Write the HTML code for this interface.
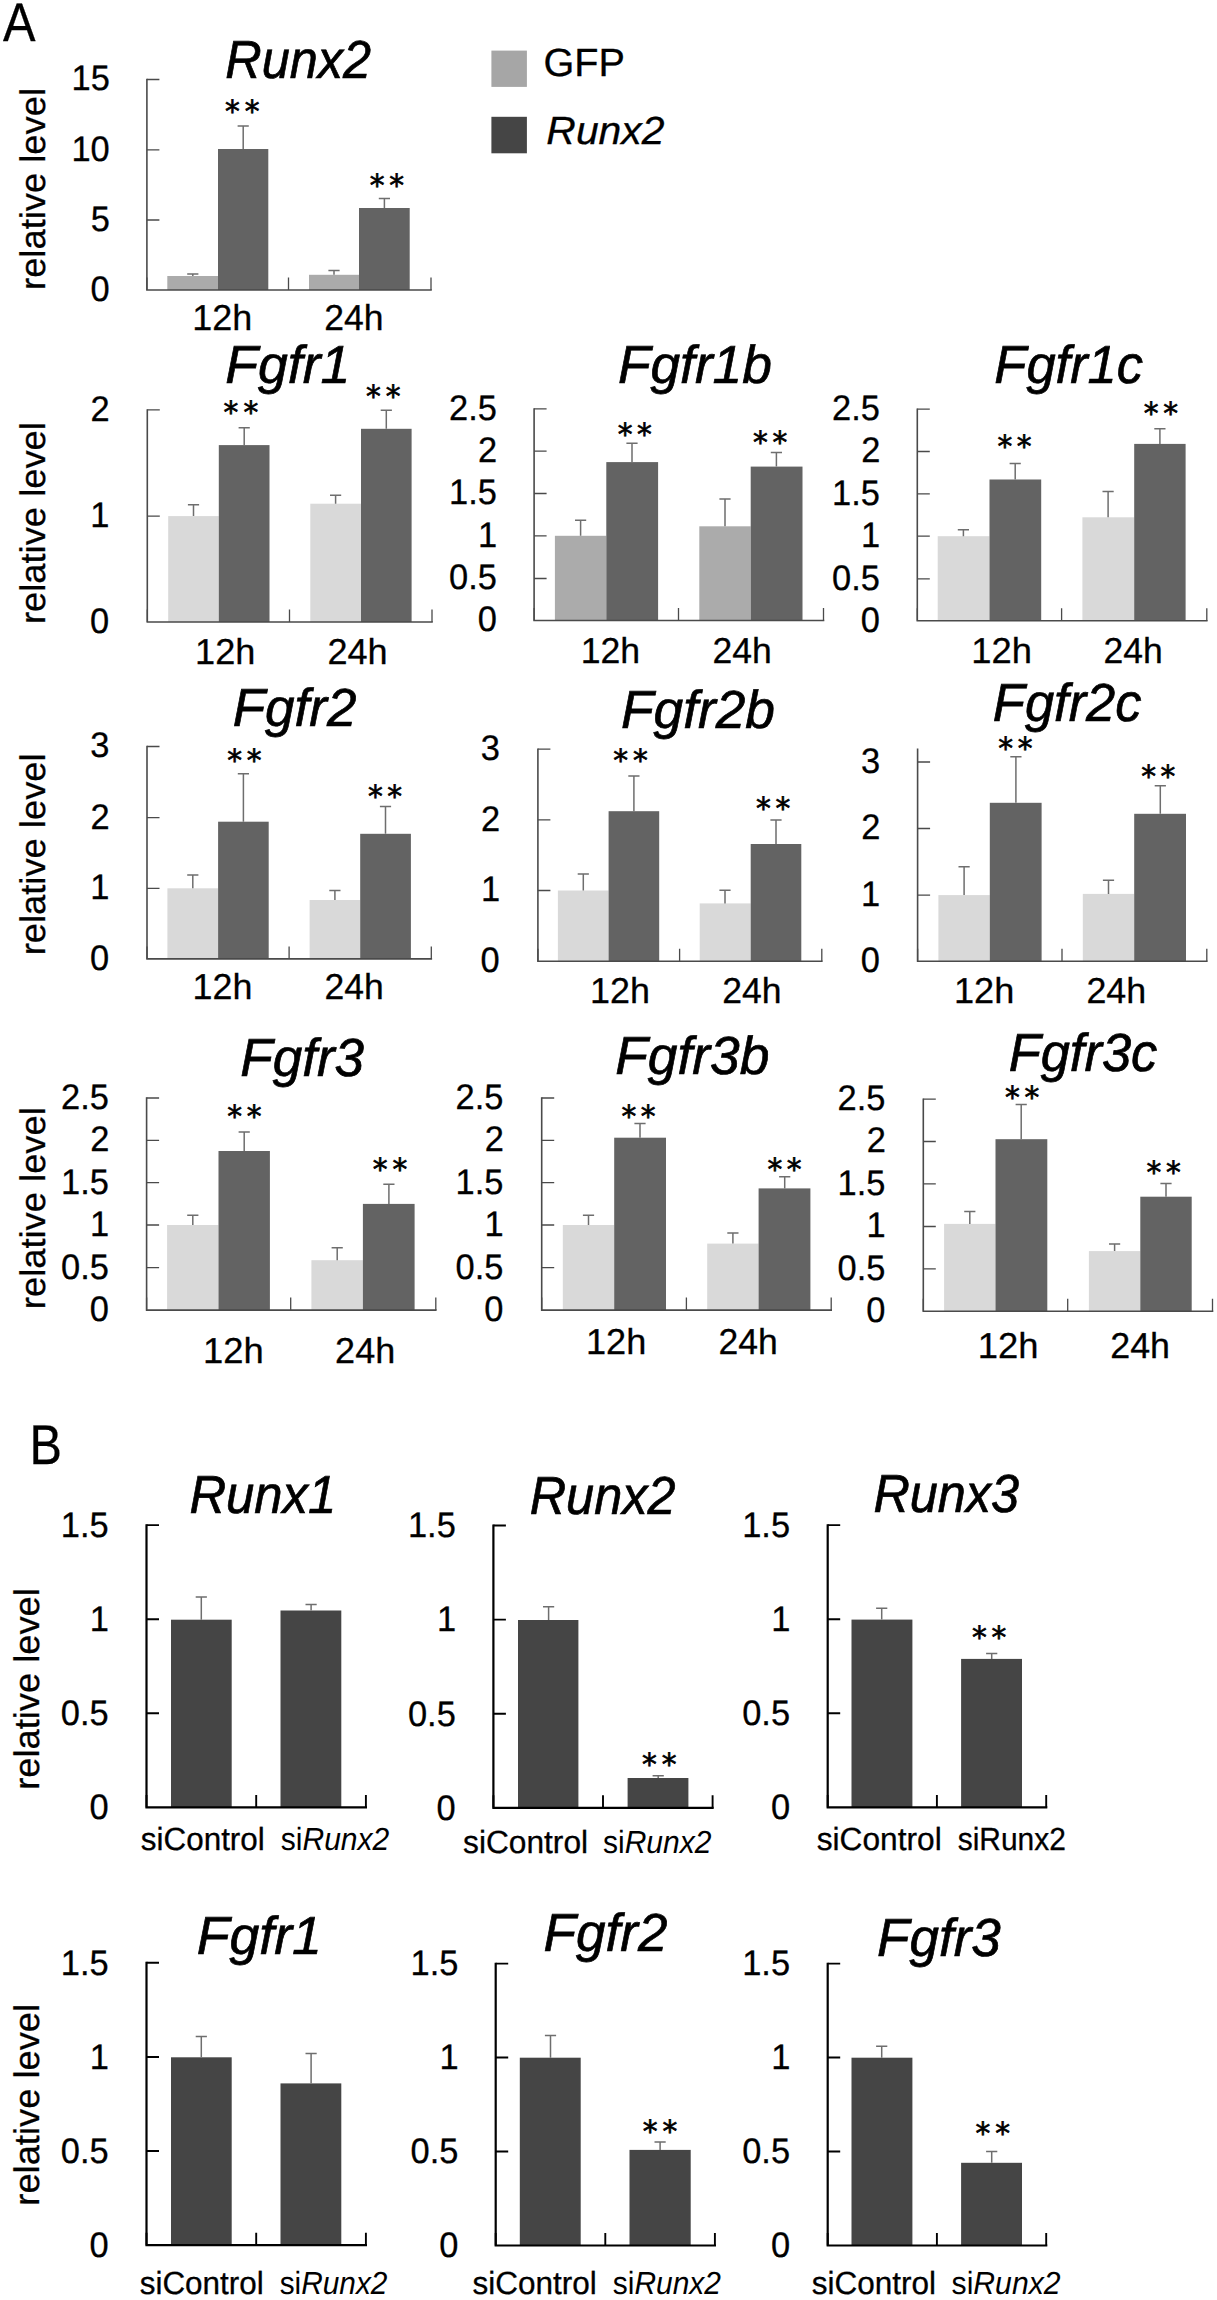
<!DOCTYPE html>
<html lang="en"><head><meta charset="utf-8"><title>Figure</title>
<style>
html,body{margin:0;padding:0;background:#fff;}
body{width:1217px;height:2300px;overflow:hidden;}
svg{display:block;}
svg text{font-family:"Liberation Sans", sans-serif;fill:#000;text-rendering:geometricPrecision;}
svg text.st{font-family:"DejaVu Sans", "Liberation Sans", sans-serif;}
</style></head><body>
<svg width="1217" height="2300" viewBox="0 0 1217 2300">
<rect width="1217" height="2300" fill="#fff"/>
<rect x="167.3" y="276" width="50.7" height="14" fill="#ababab"/>
<rect x="218" y="149" width="50.3" height="141" fill="#636363"/>
<rect x="309" y="274.8" width="50" height="15.2" fill="#ababab"/>
<rect x="359" y="208" width="50.7" height="82" fill="#636363"/>
<path d="M192.8 276V274M187.2 274H198.4" stroke="#6e6e6e" stroke-width="1.5" fill="none"/>
<path d="M243.2 149V125.9M237.6 125.9H248.8" stroke="#6e6e6e" stroke-width="1.5" fill="none"/>
<path d="M334 274.8V270.6M328.4 270.6H339.6" stroke="#6e6e6e" stroke-width="1.5" fill="none"/>
<path d="M384.4 208V198.4M378.8 198.4H390" stroke="#6e6e6e" stroke-width="1.5" fill="none"/>
<path d="M146.9 78.85V290H431.8" stroke="#4a4a4a" stroke-width="1.6" fill="none" stroke-linejoin="miter"/>
<path d="M146.9 79.5h12.5M146.9 149.8h12.5M146.9 220h12.5M288.5 290v-12.5M431 290v-12.5M146.91 290v-12.5" stroke="#4a4a4a" stroke-width="1.3" fill="none"/>
<text transform="translate(71.55 90.49) scale(0.9700 1)" font-size="35.5" stroke="#000" stroke-width="0.3">15</text>
<text transform="translate(71.47 160.79) scale(0.9700 1)" font-size="35.5" stroke="#000" stroke-width="0.3">10</text>
<text transform="translate(90.67 230.99) scale(0.9700 1)" font-size="35.5" stroke="#000" stroke-width="0.3">5</text>
<text transform="translate(90.58 300.99) scale(0.9700 1)" font-size="35.5" stroke="#000" stroke-width="0.3">0</text>
<text class="st" transform="translate(225.11 122.33) scale(0.9671 1)" x="0 20.37" font-size="30.55" stroke="#000" stroke-width="0.7">**</text>
<text class="st" transform="translate(369.71 195.73) scale(0.9671 1)" x="0 20.27" font-size="30.55" stroke="#000" stroke-width="0.7">**</text>
<text transform="translate(225.29 77.8) scale(0.9424 1)" font-size="53.5" font-style="italic" fill="#000" stroke="#000" stroke-width="0.7">Runx2</text>
<text transform="translate(192.2 329.7) scale(0.9984 1)" font-size="36" fill="#000" stroke="#000" stroke-width="0.3">12h</text>
<text transform="translate(324.32 329.7) scale(0.9877 1)" font-size="36" fill="#000" stroke="#000" stroke-width="0.3">24h</text>
<rect x="168.2" y="516.1" width="50.6" height="105.9" fill="#d9d9d9"/>
<rect x="218.8" y="445.1" width="50.7" height="176.9" fill="#636363"/>
<rect x="310.3" y="503.7" width="50.7" height="118.3" fill="#d9d9d9"/>
<rect x="361" y="428.8" width="50.6" height="193.2" fill="#636363"/>
<path d="M193.5 516.1V504.8M187.9 504.8H199.1" stroke="#6e6e6e" stroke-width="1.5" fill="none"/>
<path d="M244.2 445.1V427.7M238.6 427.7H249.8" stroke="#6e6e6e" stroke-width="1.5" fill="none"/>
<path d="M335.6 503.7V495.3M330 495.3H341.2" stroke="#6e6e6e" stroke-width="1.5" fill="none"/>
<path d="M386.3 428.8V410.3M380.7 410.3H391.9" stroke="#6e6e6e" stroke-width="1.5" fill="none"/>
<path d="M147.3 409.25V622H432.8" stroke="#4a4a4a" stroke-width="1.6" fill="none" stroke-linejoin="miter"/>
<path d="M147.3 409.9h12.5M147.3 516.1h12.5M289.5 622v-12.5M432 622v-12.5M147.31 622v-12.5" stroke="#4a4a4a" stroke-width="1.3" fill="none"/>
<text transform="translate(90.41 420.89) scale(0.9700 1)" font-size="35.5" stroke="#000" stroke-width="0.3">2</text>
<text transform="translate(90.32 527.09) scale(0.9700 1)" font-size="35.5" stroke="#000" stroke-width="0.3">1</text>
<text transform="translate(89.98 632.99) scale(0.9700 1)" font-size="35.5" stroke="#000" stroke-width="0.3">0</text>
<text class="st" transform="translate(223.61 422.53) scale(0.9671 1)" x="0 20.47" font-size="30.55" stroke="#000" stroke-width="0.7">**</text>
<text class="st" transform="translate(366.01 407.23) scale(0.9671 1)" x="0 20.47" font-size="30.55" stroke="#000" stroke-width="0.7">**</text>
<text transform="translate(225.19 382.6) scale(1.0018 1)" font-size="53.5" font-style="italic" fill="#000" stroke="#000" stroke-width="0.7">Fgfr1</text>
<text transform="translate(195.09 664.3) scale(1.0038 1)" font-size="36" fill="#000" stroke="#000" stroke-width="0.3">12h</text>
<text transform="translate(327.5 664.3) scale(1.0020 1)" font-size="36" fill="#000" stroke="#000" stroke-width="0.3">24h</text>
<rect x="554.9" y="535.8" width="51.4" height="84.7" fill="#ababab"/>
<rect x="606.3" y="462.1" width="51.8" height="158.4" fill="#636363"/>
<rect x="699.3" y="526.3" width="51.4" height="94.2" fill="#ababab"/>
<rect x="750.7" y="466.6" width="51.8" height="153.9" fill="#636363"/>
<path d="M580.6 535.8V520.3M575 520.3H586.2" stroke="#6e6e6e" stroke-width="1.5" fill="none"/>
<path d="M632 462.1V443.2M626.4 443.2H637.6" stroke="#6e6e6e" stroke-width="1.5" fill="none"/>
<path d="M725 526.3V499.1M719.4 499.1H730.6" stroke="#6e6e6e" stroke-width="1.5" fill="none"/>
<path d="M776.4 466.6V452.6M770.8 452.6H782" stroke="#6e6e6e" stroke-width="1.5" fill="none"/>
<path d="M534.1 408.15V620.5H824.3" stroke="#4a4a4a" stroke-width="1.6" fill="none" stroke-linejoin="miter"/>
<path d="M534.1 408.8h12.5M534.1 451.1h12.5M534.1 493.5h12.5M534.1 535.8h12.5M534.1 578.5h12.5M678.5 620.5v-12.5M823.5 620.5v-12.5M534.11 620.5v-12.5" stroke="#4a4a4a" stroke-width="1.3" fill="none"/>
<text transform="translate(449.01 419.79) scale(0.9700 1)" font-size="35.5" stroke="#000" stroke-width="0.3">2.5</text>
<text transform="translate(478.11 462.09) scale(0.9700 1)" font-size="35.5" stroke="#000" stroke-width="0.3">2</text>
<text transform="translate(449.01 504.49) scale(0.9700 1)" font-size="35.5" stroke="#000" stroke-width="0.3">1.5</text>
<text transform="translate(478.02 546.79) scale(0.9700 1)" font-size="35.5" stroke="#000" stroke-width="0.3">1</text>
<text transform="translate(449.01 589.49) scale(0.9700 1)" font-size="35.5" stroke="#000" stroke-width="0.3">0.5</text>
<text transform="translate(477.68 631.49) scale(0.9700 1)" font-size="35.5" stroke="#000" stroke-width="0.3">0</text>
<text class="st" transform="translate(617.81 444.83) scale(0.9671 1)" x="0 19.96" font-size="30.55" stroke="#000" stroke-width="0.7">**</text>
<text class="st" transform="translate(753.11 453.43) scale(0.9671 1)" x="0 19.96" font-size="30.55" stroke="#000" stroke-width="0.7">**</text>
<text transform="translate(617.9 382.6) scale(0.9959 1)" font-size="53.5" font-style="italic" fill="#000" stroke="#000" stroke-width="0.7">Fgfr1b</text>
<text transform="translate(580.73 663.2) scale(0.9893 1)" font-size="36" fill="#000" stroke="#000" stroke-width="0.3">12h</text>
<text transform="translate(712.43 663.2) scale(0.9859 1)" font-size="36" fill="#000" stroke="#000" stroke-width="0.3">24h</text>
<rect x="937.7" y="536.2" width="51.8" height="84.6" fill="#d9d9d9"/>
<rect x="989.5" y="479.5" width="51.7" height="141.3" fill="#636363"/>
<rect x="1082.4" y="517.3" width="51.8" height="103.5" fill="#d9d9d9"/>
<rect x="1134.2" y="443.9" width="51.4" height="176.9" fill="#636363"/>
<path d="M963.4 536.2V529.7M957.8 529.7H969" stroke="#6e6e6e" stroke-width="1.5" fill="none"/>
<path d="M1015.2 479.5V463.6M1009.6 463.6H1020.8" stroke="#6e6e6e" stroke-width="1.5" fill="none"/>
<path d="M1108.1 517.3V491.6M1102.5 491.6H1113.7" stroke="#6e6e6e" stroke-width="1.5" fill="none"/>
<path d="M1159.9 443.9V428.8M1154.3 428.8H1165.5" stroke="#6e6e6e" stroke-width="1.5" fill="none"/>
<path d="M917.3 408.55V620.8H1207.6" stroke="#4a4a4a" stroke-width="1.6" fill="none" stroke-linejoin="miter"/>
<path d="M917.3 409.2h12.5M917.3 451.5h12.5M917.3 493.8h12.5M917.3 536.2h12.5M917.3 578.9h12.5M1061.6 620.8v-12.5M1206.8 620.8v-12.5M917.31 620.8v-12.5" stroke="#4a4a4a" stroke-width="1.3" fill="none"/>
<text transform="translate(832.11 420.19) scale(0.9700 1)" font-size="35.5" stroke="#000" stroke-width="0.3">2.5</text>
<text transform="translate(861.21 462.49) scale(0.9700 1)" font-size="35.5" stroke="#000" stroke-width="0.3">2</text>
<text transform="translate(832.11 504.79) scale(0.9700 1)" font-size="35.5" stroke="#000" stroke-width="0.3">1.5</text>
<text transform="translate(861.12 547.19) scale(0.9700 1)" font-size="35.5" stroke="#000" stroke-width="0.3">1</text>
<text transform="translate(832.11 589.89) scale(0.9700 1)" font-size="35.5" stroke="#000" stroke-width="0.3">0.5</text>
<text transform="translate(860.78 631.79) scale(0.9700 1)" font-size="35.5" stroke="#000" stroke-width="0.3">0</text>
<text class="st" transform="translate(997.41 457.43) scale(0.9671 1)" x="0 20.06" font-size="30.55" stroke="#000" stroke-width="0.7">**</text>
<text class="st" transform="translate(1143.81 424.33) scale(0.9671 1)" x="0 20.06" font-size="30.55" stroke="#000" stroke-width="0.7">**</text>
<text transform="translate(994.33 382.6) scale(0.9807 1)" font-size="53.5" font-style="italic" fill="#000" stroke="#000" stroke-width="0.7">Fgfr1c</text>
<text transform="translate(971.37 663.2) scale(1.0093 1)" font-size="36" fill="#000" stroke="#000" stroke-width="0.3">12h</text>
<text transform="translate(1103.42 663.2) scale(0.9877 1)" font-size="36" fill="#000" stroke="#000" stroke-width="0.3">24h</text>
<rect x="167.4" y="888.3" width="50.7" height="70.6" fill="#d9d9d9"/>
<rect x="218.1" y="821.7" width="50.6" height="137.2" fill="#636363"/>
<rect x="309.6" y="900" width="50.6" height="58.9" fill="#d9d9d9"/>
<rect x="360.2" y="833.8" width="50.7" height="125.1" fill="#636363"/>
<path d="M192.8 888.3V875M187.2 875H198.4" stroke="#6e6e6e" stroke-width="1.5" fill="none"/>
<path d="M243.4 821.7V773.7M237.8 773.7H249" stroke="#6e6e6e" stroke-width="1.5" fill="none"/>
<path d="M334.9 900V890.5M329.3 890.5H340.5" stroke="#6e6e6e" stroke-width="1.5" fill="none"/>
<path d="M385.5 833.8V806.6M379.9 806.6H391.1" stroke="#6e6e6e" stroke-width="1.5" fill="none"/>
<path d="M147 745.85V958.9H432.1" stroke="#4a4a4a" stroke-width="1.6" fill="none" stroke-linejoin="miter"/>
<path d="M147 746.5h12.5M147 817.6h12.5M147 888.3h12.5M289.1 958.9v-12.5M431.3 958.9v-12.5M147.01 958.9v-12.5" stroke="#4a4a4a" stroke-width="1.3" fill="none"/>
<text transform="translate(90.15 757.49) scale(0.9700 1)" font-size="35.5" stroke="#000" stroke-width="0.3">3</text>
<text transform="translate(90.41 828.59) scale(0.9700 1)" font-size="35.5" stroke="#000" stroke-width="0.3">2</text>
<text transform="translate(90.32 899.29) scale(0.9700 1)" font-size="35.5" stroke="#000" stroke-width="0.3">1</text>
<text transform="translate(89.98 969.89) scale(0.9700 1)" font-size="35.5" stroke="#000" stroke-width="0.3">0</text>
<text class="st" transform="translate(227.31 771.33) scale(0.9671 1)" x="0 20.06" font-size="30.55" stroke="#000" stroke-width="0.7">**</text>
<text class="st" transform="translate(367.91 807.23) scale(0.9671 1)" x="0 20.06" font-size="30.55" stroke="#000" stroke-width="0.7">**</text>
<text transform="translate(232.71 725.7) scale(0.9916 1)" font-size="53.5" font-style="italic" fill="#000" stroke="#000" stroke-width="0.7">Fgfr2</text>
<text transform="translate(192.51 999.4) scale(0.9965 1)" font-size="36" fill="#000" stroke="#000" stroke-width="0.3">12h</text>
<text transform="translate(324.52 999.4) scale(0.9877 1)" font-size="36" fill="#000" stroke="#000" stroke-width="0.3">24h</text>
<rect x="557.9" y="890.5" width="50.7" height="70.7" fill="#d9d9d9"/>
<rect x="608.6" y="811.2" width="50.6" height="150" fill="#636363"/>
<rect x="699.7" y="903.4" width="51" height="57.8" fill="#d9d9d9"/>
<rect x="750.7" y="844" width="50.6" height="117.2" fill="#636363"/>
<path d="M583.3 890.5V873.9M577.7 873.9H588.9" stroke="#6e6e6e" stroke-width="1.5" fill="none"/>
<path d="M633.9 811.2V776M628.3 776H639.5" stroke="#6e6e6e" stroke-width="1.5" fill="none"/>
<path d="M725 903.4V890.2M719.4 890.2H730.6" stroke="#6e6e6e" stroke-width="1.5" fill="none"/>
<path d="M776 844V819.9M770.4 819.9H781.6" stroke="#6e6e6e" stroke-width="1.5" fill="none"/>
<path d="M537.9 748.55V961.2H822.6" stroke="#4a4a4a" stroke-width="1.6" fill="none" stroke-linejoin="miter"/>
<path d="M537.9 749.2h12.5M537.9 819.9h12.5M537.9 890.5h12.5M679.6 961.2v-12.5M821.8 961.2v-12.5M537.91 961.2v-12.5" stroke="#4a4a4a" stroke-width="1.3" fill="none"/>
<text transform="translate(480.75 760.19) scale(0.9700 1)" font-size="35.5" stroke="#000" stroke-width="0.3">3</text>
<text transform="translate(481.01 830.89) scale(0.9700 1)" font-size="35.5" stroke="#000" stroke-width="0.3">2</text>
<text transform="translate(480.92 901.49) scale(0.9700 1)" font-size="35.5" stroke="#000" stroke-width="0.3">1</text>
<text transform="translate(480.58 972.19) scale(0.9700 1)" font-size="35.5" stroke="#000" stroke-width="0.3">0</text>
<text class="st" transform="translate(613.31 770.73) scale(0.9671 1)" x="0 20.27" font-size="30.55" stroke="#000" stroke-width="0.7">**</text>
<text class="st" transform="translate(756.11 819.13) scale(0.9671 1)" x="0 20.06" font-size="30.55" stroke="#000" stroke-width="0.7">**</text>
<text transform="translate(621 728.3) scale(0.9959 1)" font-size="53.5" font-style="italic" fill="#000" stroke="#000" stroke-width="0.7">Fgfr2b</text>
<text transform="translate(590.11 1003.2) scale(0.9965 1)" font-size="36" fill="#000" stroke="#000" stroke-width="0.3">12h</text>
<text transform="translate(722.22 1003.2) scale(0.9877 1)" font-size="36" fill="#000" stroke="#000" stroke-width="0.3">24h</text>
<rect x="938.4" y="895.1" width="51.4" height="66.1" fill="#d9d9d9"/>
<rect x="989.8" y="802.8" width="51.8" height="158.4" fill="#636363"/>
<rect x="1082.8" y="893.9" width="51.4" height="67.3" fill="#d9d9d9"/>
<rect x="1134.2" y="813.8" width="51.8" height="147.4" fill="#636363"/>
<path d="M964.1 895.1V866.7M958.5 866.7H969.7" stroke="#6e6e6e" stroke-width="1.5" fill="none"/>
<path d="M1015.9 802.8V756.7M1010.3 756.7H1021.5" stroke="#6e6e6e" stroke-width="1.5" fill="none"/>
<path d="M1108.5 893.9V880.3M1102.9 880.3H1114.1" stroke="#6e6e6e" stroke-width="1.5" fill="none"/>
<path d="M1160.3 813.8V785.8M1154.7 785.8H1165.9" stroke="#6e6e6e" stroke-width="1.5" fill="none"/>
<path d="M917.6 748.55V961.2H1207.6" stroke="#4a4a4a" stroke-width="1.6" fill="none" stroke-linejoin="miter"/>
<path d="M917.6 762h12.5M917.6 828.5h12.5M917.6 895.1h12.5M1062 961.2v-12.5M1206.8 961.2v-12.5M917.61 961.2v-12.5" stroke="#4a4a4a" stroke-width="1.3" fill="none"/>
<text transform="translate(860.95 772.99) scale(0.9700 1)" font-size="35.5" stroke="#000" stroke-width="0.3">3</text>
<text transform="translate(861.21 839.49) scale(0.9700 1)" font-size="35.5" stroke="#000" stroke-width="0.3">2</text>
<text transform="translate(861.12 906.09) scale(0.9700 1)" font-size="35.5" stroke="#000" stroke-width="0.3">1</text>
<text transform="translate(860.78 972.19) scale(0.9700 1)" font-size="35.5" stroke="#000" stroke-width="0.3">0</text>
<text class="st" transform="translate(998.31 759.43) scale(0.9671 1)" x="0 20.06" font-size="30.55" stroke="#000" stroke-width="0.7">**</text>
<text class="st" transform="translate(1141.21 787.23) scale(0.9671 1)" x="0 20.06" font-size="30.55" stroke="#000" stroke-width="0.7">**</text>
<text transform="translate(992.83 720.7) scale(0.9807 1)" font-size="53.5" font-style="italic" fill="#000" stroke="#000" stroke-width="0.7">Fgfr2c</text>
<text transform="translate(953.99 1003.2) scale(1.0038 1)" font-size="36" fill="#000" stroke="#000" stroke-width="0.3">12h</text>
<text transform="translate(1086.41 1003.2) scale(0.9948 1)" font-size="36" fill="#000" stroke="#000" stroke-width="0.3">24h</text>
<rect x="167.1" y="1225" width="51.4" height="85.1" fill="#d9d9d9"/>
<rect x="218.5" y="1151" width="51.4" height="159.1" fill="#636363"/>
<rect x="311.4" y="1260.2" width="51.5" height="49.9" fill="#d9d9d9"/>
<rect x="362.9" y="1203.9" width="51.7" height="106.2" fill="#636363"/>
<path d="M192.8 1225V1215.2M187.2 1215.2H198.4" stroke="#6e6e6e" stroke-width="1.5" fill="none"/>
<path d="M244.2 1151V1132M238.6 1132H249.8" stroke="#6e6e6e" stroke-width="1.5" fill="none"/>
<path d="M337.2 1260.2V1247.7M331.6 1247.7H342.8" stroke="#6e6e6e" stroke-width="1.5" fill="none"/>
<path d="M388.9 1203.9V1184.2M383.3 1184.2H394.5" stroke="#6e6e6e" stroke-width="1.5" fill="none"/>
<path d="M146.6 1097.35V1310.1H436.6" stroke="#4a4a4a" stroke-width="1.6" fill="none" stroke-linejoin="miter"/>
<path d="M146.6 1098h12.5M146.6 1140.4h12.5M146.6 1182.7h12.5M146.6 1225h12.5M146.6 1267.7h12.5M290.7 1310.1v-12.5M435.8 1310.1v-12.5M146.61 1310.1v-12.5" stroke="#4a4a4a" stroke-width="1.3" fill="none"/>
<text transform="translate(61.11 1108.99) scale(0.9700 1)" font-size="35.5" stroke="#000" stroke-width="0.3">2.5</text>
<text transform="translate(90.21 1151.39) scale(0.9700 1)" font-size="35.5" stroke="#000" stroke-width="0.3">2</text>
<text transform="translate(61.11 1193.69) scale(0.9700 1)" font-size="35.5" stroke="#000" stroke-width="0.3">1.5</text>
<text transform="translate(90.12 1235.99) scale(0.9700 1)" font-size="35.5" stroke="#000" stroke-width="0.3">1</text>
<text transform="translate(61.11 1278.69) scale(0.9700 1)" font-size="35.5" stroke="#000" stroke-width="0.3">0.5</text>
<text transform="translate(89.78 1321.09) scale(0.9700 1)" font-size="35.5" stroke="#000" stroke-width="0.3">0</text>
<text class="st" transform="translate(227.31 1127.03) scale(0.9671 1)" x="0 20.06" font-size="30.55" stroke="#000" stroke-width="0.7">**</text>
<text class="st" transform="translate(372.81 1179.93) scale(0.9671 1)" x="0 20.37" font-size="30.55" stroke="#000" stroke-width="0.7">**</text>
<text transform="translate(240.31 1075.7) scale(0.9906 1)" font-size="53.5" font-style="italic" fill="#000" stroke="#000" stroke-width="0.7">Fgfr3</text>
<text transform="translate(202.97 1362.6) scale(1.0111 1)" font-size="36" fill="#000" stroke="#000" stroke-width="0.3">12h</text>
<text transform="translate(335.1 1362.6) scale(1.0002 1)" font-size="36" fill="#000" stroke="#000" stroke-width="0.3">24h</text>
<rect x="562.8" y="1225" width="51.4" height="85.1" fill="#d9d9d9"/>
<rect x="614.2" y="1137.7" width="51.8" height="172.4" fill="#636363"/>
<rect x="707.2" y="1243.6" width="51.4" height="66.5" fill="#d9d9d9"/>
<rect x="758.6" y="1188.4" width="51.8" height="121.7" fill="#636363"/>
<path d="M588.5 1225V1215.2M582.9 1215.2H594.1" stroke="#6e6e6e" stroke-width="1.5" fill="none"/>
<path d="M640 1137.7V1123.4M634.4 1123.4H645.6" stroke="#6e6e6e" stroke-width="1.5" fill="none"/>
<path d="M732.9 1243.6V1233M727.3 1233H738.5" stroke="#6e6e6e" stroke-width="1.5" fill="none"/>
<path d="M784.7 1188.4V1176.7M779.1 1176.7H790.3" stroke="#6e6e6e" stroke-width="1.5" fill="none"/>
<path d="M541.7 1097.35V1310.1H832" stroke="#4a4a4a" stroke-width="1.6" fill="none" stroke-linejoin="miter"/>
<path d="M541.7 1098h12.5M541.7 1140.4h12.5M541.7 1182.7h12.5M541.7 1225h12.5M541.7 1267.7h12.5M686.4 1310.1v-12.5M831.2 1310.1v-12.5M541.71 1310.1v-12.5" stroke="#4a4a4a" stroke-width="1.3" fill="none"/>
<text transform="translate(455.61 1108.99) scale(0.9700 1)" font-size="35.5" stroke="#000" stroke-width="0.3">2.5</text>
<text transform="translate(484.71 1151.39) scale(0.9700 1)" font-size="35.5" stroke="#000" stroke-width="0.3">2</text>
<text transform="translate(455.61 1193.69) scale(0.9700 1)" font-size="35.5" stroke="#000" stroke-width="0.3">1.5</text>
<text transform="translate(484.62 1235.99) scale(0.9700 1)" font-size="35.5" stroke="#000" stroke-width="0.3">1</text>
<text transform="translate(455.61 1278.69) scale(0.9700 1)" font-size="35.5" stroke="#000" stroke-width="0.3">0.5</text>
<text transform="translate(484.28 1321.09) scale(0.9700 1)" font-size="35.5" stroke="#000" stroke-width="0.3">0</text>
<text class="st" transform="translate(621.61 1127.03) scale(0.9671 1)" x="0 19.85" font-size="30.55" stroke="#000" stroke-width="0.7">**</text>
<text class="st" transform="translate(767.51 1179.93) scale(0.9671 1)" x="0 19.96" font-size="30.55" stroke="#000" stroke-width="0.7">**</text>
<text transform="translate(615.3 1073.8) scale(0.9959 1)" font-size="53.5" font-style="italic" fill="#000" stroke="#000" stroke-width="0.7">Fgfr3b</text>
<text transform="translate(585.99 1354.3) scale(1.0038 1)" font-size="36" fill="#000" stroke="#000" stroke-width="0.3">12h</text>
<text transform="translate(718.42 1354.3) scale(0.9877 1)" font-size="36" fill="#000" stroke="#000" stroke-width="0.3">24h</text>
<rect x="944.1" y="1223.9" width="51.4" height="87.3" fill="#d9d9d9"/>
<rect x="995.5" y="1139.2" width="51.8" height="172" fill="#636363"/>
<rect x="1088.9" y="1251.1" width="51.4" height="60.1" fill="#d9d9d9"/>
<rect x="1140.3" y="1196.7" width="51.4" height="114.5" fill="#636363"/>
<path d="M969.8 1223.9V1211.4M964.2 1211.4H975.4" stroke="#6e6e6e" stroke-width="1.5" fill="none"/>
<path d="M1021.2 1139.2V1104.5M1015.6 1104.5H1026.8" stroke="#6e6e6e" stroke-width="1.5" fill="none"/>
<path d="M1114.6 1251.1V1243.9M1109 1243.9H1120.2" stroke="#6e6e6e" stroke-width="1.5" fill="none"/>
<path d="M1166 1196.7V1183.5M1160.4 1183.5H1171.6" stroke="#6e6e6e" stroke-width="1.5" fill="none"/>
<path d="M923.3 1098.55V1311.2H1213.3" stroke="#4a4a4a" stroke-width="1.6" fill="none" stroke-linejoin="miter"/>
<path d="M923.3 1099.2h12.5M923.3 1141.5h12.5M923.3 1183.8h12.5M923.3 1226.5h12.5M923.3 1268.9h12.5M1067.7 1311.2v-12.5M1212.5 1311.2v-12.5M923.31 1311.2v-12.5" stroke="#4a4a4a" stroke-width="1.3" fill="none"/>
<text transform="translate(837.61 1110.19) scale(0.9700 1)" font-size="35.5" stroke="#000" stroke-width="0.3">2.5</text>
<text transform="translate(866.71 1152.49) scale(0.9700 1)" font-size="35.5" stroke="#000" stroke-width="0.3">2</text>
<text transform="translate(837.61 1194.79) scale(0.9700 1)" font-size="35.5" stroke="#000" stroke-width="0.3">1.5</text>
<text transform="translate(866.62 1237.49) scale(0.9700 1)" font-size="35.5" stroke="#000" stroke-width="0.3">1</text>
<text transform="translate(837.61 1279.89) scale(0.9700 1)" font-size="35.5" stroke="#000" stroke-width="0.3">0.5</text>
<text transform="translate(866.28 1322.19) scale(0.9700 1)" font-size="35.5" stroke="#000" stroke-width="0.3">0</text>
<text class="st" transform="translate(1005.11 1108.13) scale(0.9671 1)" x="0 20.06" font-size="30.55" stroke="#000" stroke-width="0.7">**</text>
<text class="st" transform="translate(1146.51 1182.93) scale(0.9671 1)" x="0 20.27" font-size="30.55" stroke="#000" stroke-width="0.7">**</text>
<text transform="translate(1008.63 1070.7) scale(0.9807 1)" font-size="53.5" font-style="italic" fill="#000" stroke="#000" stroke-width="0.7">Fgfr3c</text>
<text transform="translate(977.77 1358.1) scale(1.0111 1)" font-size="36" fill="#000" stroke="#000" stroke-width="0.3">12h</text>
<text transform="translate(1110.21 1358.1) scale(0.9948 1)" font-size="36" fill="#000" stroke="#000" stroke-width="0.3">24h</text>
<rect x="171" y="1619.7" width="60.7" height="187.7" fill="#454545"/>
<rect x="280.5" y="1610.5" width="60.8" height="196.9" fill="#454545"/>
<path d="M201.3 1619.7V1597M195.7 1597H206.9" stroke="#6e6e6e" stroke-width="1.5" fill="none"/>
<path d="M311.1 1610.5V1604.5M305.5 1604.5H316.7" stroke="#6e6e6e" stroke-width="1.5" fill="none"/>
<path d="M146.5 1524.15V1807.4H367" stroke="#000" stroke-width="2.2" fill="none" stroke-linejoin="miter"/>
<path d="M146.5 1525.1h12.5M146.5 1619.2h12.5M146.5 1713.3h12.5M256.2 1807.4v-12.5M365.9 1807.4v-12.5M146.51 1807.4v-12.5" stroke="#000" stroke-width="1.9" fill="none"/>
<text transform="translate(60.81 1536.99) scale(0.9700 1)" font-size="35.5" stroke="#000" stroke-width="0.3">1.5</text>
<text transform="translate(89.82 1631.09) scale(0.9700 1)" font-size="35.5" stroke="#000" stroke-width="0.3">1</text>
<text transform="translate(60.81 1725.19) scale(0.9700 1)" font-size="35.5" stroke="#000" stroke-width="0.3">0.5</text>
<text transform="translate(89.48 1819.29) scale(0.9700 1)" font-size="35.5" stroke="#000" stroke-width="0.3">0</text>
<text transform="translate(189.38 1512.6) scale(0.9493 1)" font-size="53.5" font-style="italic" fill="#000" stroke="#000" stroke-width="0.7">Runx1</text>
<text transform="translate(140.84 1849.8) scale(0.9815 1)" font-size="32" fill="#000" stroke="#000" stroke-width="0.3">siControl</text>
<text transform="translate(280.77 1849.8) scale(0.9387 1)" font-size="32">si<tspan font-style="italic">Runx2</tspan></text>
<rect x="518" y="1620" width="60.4" height="187.8" fill="#454545"/>
<rect x="627.6" y="1778" width="60.8" height="29.8" fill="#454545"/>
<path d="M548.6 1620V1606.8M543 1606.8H554.2" stroke="#6e6e6e" stroke-width="1.5" fill="none"/>
<path d="M658.2 1778V1775.7M652.6 1775.7H663.8" stroke="#6e6e6e" stroke-width="1.5" fill="none"/>
<path d="M493.4 1524.55V1807.8H713.7" stroke="#000" stroke-width="2.2" fill="none" stroke-linejoin="miter"/>
<path d="M493.4 1525.5h12.5M493.4 1619.6h12.5M493.4 1713.7h12.5M603 1807.8v-12.5M712.6 1807.8v-12.5M493.41 1807.8v-12.5" stroke="#000" stroke-width="1.9" fill="none"/>
<text transform="translate(407.91 1537.39) scale(0.9700 1)" font-size="35.5" stroke="#000" stroke-width="0.3">1.5</text>
<text transform="translate(436.92 1631.49) scale(0.9700 1)" font-size="35.5" stroke="#000" stroke-width="0.3">1</text>
<text transform="translate(407.91 1725.59) scale(0.9700 1)" font-size="35.5" stroke="#000" stroke-width="0.3">0.5</text>
<text transform="translate(436.58 1819.69) scale(0.9700 1)" font-size="35.5" stroke="#000" stroke-width="0.3">0</text>
<text class="st" transform="translate(642.11 1775.03) scale(0.9671 1)" x="0 20.37" font-size="30.55" stroke="#000" stroke-width="0.7">**</text>
<text transform="translate(529.69 1513.7) scale(0.9424 1)" font-size="53.5" font-style="italic" fill="#000" stroke="#000" stroke-width="0.7">Runx2</text>
<text transform="translate(463.03 1852.9) scale(0.9904 1)" font-size="32" fill="#000" stroke="#000" stroke-width="0.3">siControl</text>
<text transform="translate(602.97 1852.9) scale(0.9387 1)" font-size="32">si<tspan font-style="italic">Runx2</tspan></text>
<rect x="851.5" y="1619.6" width="60.9" height="187.8" fill="#454545"/>
<rect x="961.1" y="1658.9" width="60.9" height="148.5" fill="#454545"/>
<path d="M881.7 1619.6V1608.3M876.1 1608.3H887.3" stroke="#6e6e6e" stroke-width="1.5" fill="none"/>
<path d="M991.7 1658.9V1653.6M986.1 1653.6H997.3" stroke="#6e6e6e" stroke-width="1.5" fill="none"/>
<path d="M827.7 1524.15V1807.4H1047.3" stroke="#000" stroke-width="2.2" fill="none" stroke-linejoin="miter"/>
<path d="M827.7 1525.1h12.5M827.7 1619.2h12.5M827.7 1713.3h12.5M936.9 1807.4v-12.5M1046.2 1807.4v-12.5M827.71 1807.4v-12.5" stroke="#000" stroke-width="1.9" fill="none"/>
<text transform="translate(742.21 1536.99) scale(0.9700 1)" font-size="35.5" stroke="#000" stroke-width="0.3">1.5</text>
<text transform="translate(771.22 1631.09) scale(0.9700 1)" font-size="35.5" stroke="#000" stroke-width="0.3">1</text>
<text transform="translate(742.21 1725.19) scale(0.9700 1)" font-size="35.5" stroke="#000" stroke-width="0.3">0.5</text>
<text transform="translate(770.88 1819.29) scale(0.9700 1)" font-size="35.5" stroke="#000" stroke-width="0.3">0</text>
<text class="st" transform="translate(971.91 1647.73) scale(0.9671 1)" x="0 20.27" font-size="30.55" stroke="#000" stroke-width="0.7">**</text>
<text transform="translate(873.39 1511.8) scale(0.9417 1)" font-size="53.5" font-style="italic" fill="#000" stroke="#000" stroke-width="0.7">Runx3</text>
<text transform="translate(816.63 1849.8) scale(0.9904 1)" font-size="32" fill="#000" stroke="#000" stroke-width="0.3">siControl</text>
<text transform="translate(957.68 1849.8) scale(0.9353 1)" font-size="32" fill="#000" stroke="#000" stroke-width="0.3">siRunx2</text>
<rect x="171" y="2057.3" width="60.7" height="187.9" fill="#454545"/>
<rect x="280.5" y="2083.4" width="60.8" height="161.8" fill="#454545"/>
<path d="M201.3 2057.3V2036.5M195.7 2036.5H206.9" stroke="#6e6e6e" stroke-width="1.5" fill="none"/>
<path d="M311.1 2083.4V2053.5M305.5 2053.5H316.7" stroke="#6e6e6e" stroke-width="1.5" fill="none"/>
<path d="M146.5 1961.85V2245.2H367" stroke="#000" stroke-width="2.2" fill="none" stroke-linejoin="miter"/>
<path d="M146.5 1962.8h12.5M146.5 2056.93h12.5M146.5 2151.07h12.5M256.2 2245.2v-12.5M365.9 2245.2v-12.5M146.51 2245.2v-12.5" stroke="#000" stroke-width="1.9" fill="none"/>
<text transform="translate(60.81 1974.69) scale(0.9700 1)" font-size="35.5" stroke="#000" stroke-width="0.3">1.5</text>
<text transform="translate(89.82 2068.82) scale(0.9700 1)" font-size="35.5" stroke="#000" stroke-width="0.3">1</text>
<text transform="translate(60.81 2162.96) scale(0.9700 1)" font-size="35.5" stroke="#000" stroke-width="0.3">0.5</text>
<text transform="translate(89.48 2257.09) scale(0.9700 1)" font-size="35.5" stroke="#000" stroke-width="0.3">0</text>
<text transform="translate(196.79 1954) scale(1.0018 1)" font-size="53.5" font-style="italic" fill="#000" stroke="#000" stroke-width="0.7">Fgfr1</text>
<text transform="translate(139.74 2294) scale(0.9815 1)" font-size="32" fill="#000" stroke="#000" stroke-width="0.3">siControl</text>
<text transform="translate(279.68 2294) scale(0.9317 1)" font-size="32">si<tspan font-style="italic">Runx2</tspan></text>
<rect x="519.8" y="2057.7" width="60.9" height="187.8" fill="#454545"/>
<rect x="629.5" y="2149.9" width="61.2" height="95.6" fill="#454545"/>
<path d="M550.5 2057.7V2035.4M544.9 2035.4H556.1" stroke="#6e6e6e" stroke-width="1.5" fill="none"/>
<path d="M660.1 2149.9V2142M654.5 2142H665.7" stroke="#6e6e6e" stroke-width="1.5" fill="none"/>
<path d="M495.7 1962.65V2245.5H716" stroke="#000" stroke-width="2.2" fill="none" stroke-linejoin="miter"/>
<path d="M495.7 1963.6h12.5M495.7 2057.57h12.5M495.7 2151.53h12.5M605.3 2245.5v-12.5M714.9 2245.5v-12.5M495.71 2245.5v-12.5" stroke="#000" stroke-width="1.9" fill="none"/>
<text transform="translate(410.61 1975.49) scale(0.9700 1)" font-size="35.5" stroke="#000" stroke-width="0.3">1.5</text>
<text transform="translate(439.62 2069.46) scale(0.9700 1)" font-size="35.5" stroke="#000" stroke-width="0.3">1</text>
<text transform="translate(410.61 2163.42) scale(0.9700 1)" font-size="35.5" stroke="#000" stroke-width="0.3">0.5</text>
<text transform="translate(439.28 2257.39) scale(0.9700 1)" font-size="35.5" stroke="#000" stroke-width="0.3">0</text>
<text class="st" transform="translate(642.81 2141.63) scale(0.9671 1)" x="0 20.37" font-size="30.55" stroke="#000" stroke-width="0.7">**</text>
<text transform="translate(543.61 1951) scale(0.9916 1)" font-size="53.5" font-style="italic" fill="#000" stroke="#000" stroke-width="0.7">Fgfr2</text>
<text transform="translate(472.53 2294) scale(0.9839 1)" font-size="32" fill="#000" stroke="#000" stroke-width="0.3">siControl</text>
<text transform="translate(612.78 2294) scale(0.9352 1)" font-size="32">si<tspan font-style="italic">Runx2</tspan></text>
<rect x="851.5" y="2057.7" width="60.9" height="187.8" fill="#454545"/>
<rect x="961.1" y="2162.8" width="60.9" height="82.7" fill="#454545"/>
<path d="M881.7 2057.7V2046.3M876.1 2046.3H887.3" stroke="#6e6e6e" stroke-width="1.5" fill="none"/>
<path d="M991.7 2162.8V2151.4M986.1 2151.4H997.3" stroke="#6e6e6e" stroke-width="1.5" fill="none"/>
<path d="M827.7 1962.65V2245.5H1047.3" stroke="#000" stroke-width="2.2" fill="none" stroke-linejoin="miter"/>
<path d="M827.7 1963.6h12.5M827.7 2057.57h12.5M827.7 2151.53h12.5M936.9 2245.5v-12.5M1046.2 2245.5v-12.5M827.71 2245.5v-12.5" stroke="#000" stroke-width="1.9" fill="none"/>
<text transform="translate(742.21 1975.49) scale(0.9700 1)" font-size="35.5" stroke="#000" stroke-width="0.3">1.5</text>
<text transform="translate(771.22 2069.46) scale(0.9700 1)" font-size="35.5" stroke="#000" stroke-width="0.3">1</text>
<text transform="translate(742.21 2163.42) scale(0.9700 1)" font-size="35.5" stroke="#000" stroke-width="0.3">0.5</text>
<text transform="translate(770.88 2257.39) scale(0.9700 1)" font-size="35.5" stroke="#000" stroke-width="0.3">0</text>
<text class="st" transform="translate(975.61 2143.53) scale(0.9671 1)" x="0 20.37" font-size="30.55" stroke="#000" stroke-width="0.7">**</text>
<text transform="translate(877.11 1955.9) scale(0.9906 1)" font-size="53.5" font-style="italic" fill="#000" stroke="#000" stroke-width="0.7">Fgfr3</text>
<text transform="translate(811.73 2294) scale(0.9839 1)" font-size="32" fill="#000" stroke="#000" stroke-width="0.3">siControl</text>
<text transform="translate(951.57 2294) scale(0.9422 1)" font-size="32">si<tspan font-style="italic">Runx2</tspan></text>
<text transform="translate(45.4 289.95) rotate(-90) scale(1.0234 1)" font-size="35.5" stroke="#000" stroke-width="0.3">relative level</text>
<text transform="translate(45.4 624.05) rotate(-90) scale(1.0234 1)" font-size="35.5" stroke="#000" stroke-width="0.3">relative level</text>
<text transform="translate(45.4 955.35) rotate(-90) scale(1.0234 1)" font-size="35.5" stroke="#000" stroke-width="0.3">relative level</text>
<text transform="translate(45.4 1309.15) rotate(-90) scale(1.0234 1)" font-size="35.5" stroke="#000" stroke-width="0.3">relative level</text>
<text transform="translate(39.3 1789.85) rotate(-90) scale(1.0223 1)" font-size="35.5" stroke="#000" stroke-width="0.3">relative level</text>
<text transform="translate(39.3 2205.65) rotate(-90) scale(1.0223 1)" font-size="35.5" stroke="#000" stroke-width="0.3">relative level</text>
<text transform="translate(3.08 41.3) scale(0.8962 1)" font-size="54.4" fill="#000" stroke="#000" stroke-width="0.3">A</text>
<text transform="translate(29.49 1463.6) scale(0.8685 1)" font-size="56" fill="#000" stroke="#000" stroke-width="0.3">B</text>
<rect x="491.4" y="50.6" width="35.5" height="36.3" fill="#a6a6a6"/>
<rect x="491.4" y="116.8" width="35.5" height="36.5" fill="#454545"/>
<text transform="translate(543.52 76.4) scale(1.0074 1)" font-size="39.3" fill="#000" stroke="#000" stroke-width="0.3">GFP</text>
<text transform="translate(546.37 143.7) scale(1.0402 1)" font-size="39.3" font-style="italic" fill="#000" stroke="#000" stroke-width="0.3">Runx2</text>
</svg>
</body></html>
